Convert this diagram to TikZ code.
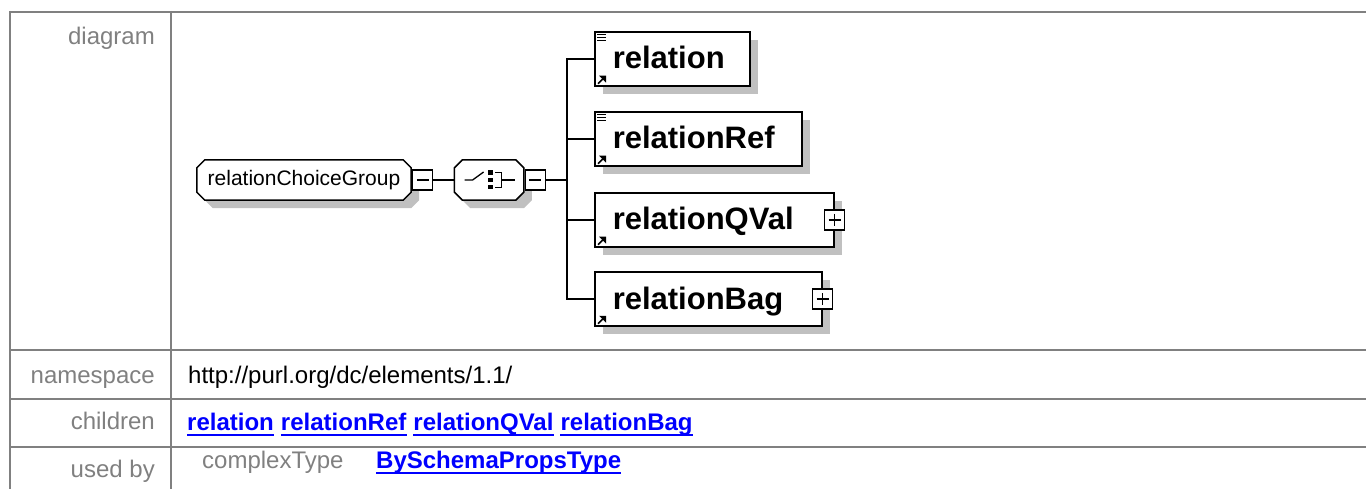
\documentclass[tikz,border=0pt]{standalone}
\usepackage{fontspec}
\setmainfont{Liberation Sans}
\usepackage{tikz}
\usepackage{xcolor}
\usetikzlibrary{positioning,shadows,calc,backgrounds}

\definecolor{labelgray}{HTML}{808080}
\definecolor{rulegray}{HTML}{808080}
\definecolor{shadowgray}{HTML}{C0C0C0}
\definecolor{linkblue}{HTML}{0000FF}

% octagon round a node: node name, offset
\newcommand\octpath[2]{($(#1.north west)+(8+#2,#2)$) -- ($(#1.north east)+(-8+#2,#2)$)
    -- ($(#1.north east)+(#2,8+#2)$) -- ($(#1.south east)+(#2,-8+#2)$)
    -- ($(#1.south east)+(-8+#2,#2)$) -- ($(#1.south west)+(8+#2,#2)$)
    -- ($(#1.south west)+(#2,-8+#2)$) -- ($(#1.north west)+(#2,8+#2)$) -- cycle}

\begin{document}
\begin{tikzpicture}[
    x=1pt, y=-1pt,
    tableline/.style={draw=rulegray, line width=2pt},
    rowlabel/.style={anchor=base east, inner sep=0pt, text=labelgray, font=\fontsize{24}{28}\selectfont},
    rowtext/.style={anchor=base west, inner sep=0pt, font=\fontsize{24}{28}\selectfont},
    linktext/.style={rowtext, text=linkblue, font=\fontsize{24}{28}\selectfont\bfseries},
    linkline/.style={draw=linkblue, line width=2pt},
    wire/.style={line width=1.5pt},
    octbox/.style={inner sep=0pt, minimum height=40pt},
    toggle/.style={draw, fill=white, line width=1.2pt, minimum size=20pt, inner sep=0pt},
    minusbox/.style={toggle, path picture={\draw[line width=1.2pt] ([xshift=4pt]path picture bounding box.west) -- ([xshift=-4pt]path picture bounding box.east);}},
    plusbox/.style={toggle, path picture={\draw[line width=1.2pt] ([xshift=4pt]path picture bounding box.west) -- ([xshift=-4pt]path picture bounding box.east) ([yshift=-4pt]path picture bounding box.north) -- ([yshift=4pt]path picture bounding box.south);}},
    elembox/.style={draw, fill=white, line width=1.5pt, anchor=west, minimum height=54pt, inner xsep=18pt, inner ysep=0pt, align=left, text width=#1, text height=23pt, text depth=3pt, font=\fontsize{31}{36}\selectfont\bfseries, drop shadow={shadow xshift=8pt, shadow yshift=-8pt, fill=shadowgray, opacity=1}}
]
    \useasboundingbox (0,0) rectangle (1366,489);

    % Table rules
    \draw[tableline] (10,12) -- (1366,12);
    \foreach \y in {350,399,447}
        \draw[tableline] (10,\y) -- (1366,\y);
    \draw[tableline] (10,11) -- (10,489) (171,11) -- (171,489);

    % Row labels
    \node[rowlabel] (diagramlbl) at (155,45) {diagram};
    \node[rowlabel] (namespacelbl) at (155,383) {namespace};
    \node[rowlabel] (childrenlbl) at (155,429) {children};
    \node[rowlabel] (usedbylbl) at (155,477) {used by};

    % Row values
    \node[rowtext] (nsvalue) at (188,383) {http://purl.org/dc/elements/1.1/};
    \node[linktext] (lnkrelation) at (187,430) {relation};
    \node[linktext, base right=6.7pt of lnkrelation] (lnkrelationRef) {relationRef};
    \node[linktext, base right=6.7pt of lnkrelationRef] (lnkrelationQVal) {relationQVal};
    \node[linktext, base right=6.7pt of lnkrelationQVal] (lnkrelationBag) {relationBag};
    \node[rowtext, text=labelgray] (usedbytype) at (202,468) {complexType};
    \node[linktext] (lnkbyschema) at (376,468) {BySchemaPropsType};
    \foreach \l in {lnkrelation, lnkrelationRef, lnkrelationQVal, lnkrelationBag, lnkbyschema}
        \draw[linkline] ([yshift=-5pt]\l.base west) -- ([yshift=-5pt]\l.base east);

    % Place nodes
    \node[octbox, minimum width=214pt, font=\fontsize{21}{25}\selectfont] (group) at (304,180) {relationChoiceGroup};
    \node[minusbox, right=1pt of group] (groupminus) {};
    \node[octbox, minimum width=69pt, right=21pt of groupminus] (choice) {};
    \node[minusbox, right=1pt of choice] (choiceminus) {};
    \coordinate[right=21pt of choiceminus] (trunk);

    \node[elembox=119pt] (relation) at (594,59) {relation};
    \node[elembox=171pt] (relationRef) at (594,139) {relationRef};
    \node[elembox=203pt] (relationQVal) at (594,220) {relationQVal};
    \node[elembox=191pt] (relationBag) at (594,299) {relationBag};
    \node[plusbox] (qvalplus) at (relationQVal.east) {};
    \node[plusbox] (bagplus) at (relationBag.east) {};

    % Octagon outlines
    \begin{scope}[on background layer]
        \foreach \n in {group, choice} {
            \fill[shadowgray] \octpath{\n}{8};
            \draw[wire, fill=white] \octpath{\n}{0};
        }
    \end{scope}

    % Choice symbol
    \begin{scope}[shift={(choice.center)}, line width=1.3pt]
        \draw (-24.5,0) -- (-16.5,0) -- (-5.5,-8);
        \foreach \y in {-9.5,-2.2,5}
            \fill (-1,\y) rectangle ++(5,4.5);
        \draw (6,-7.5) -- (12.5,-7.5) -- (12.5,7.5) -- (6,7.5) (12.5,0) -- (25.5,0);
    \end{scope}

    % Element icons
    \foreach \n in {relation, relationRef}
        \foreach \d in {3.5,6.5,9.5}
            \draw[line width=1.2pt] ([shift={(3,\d)}]\n.north west) -- ++(9,0);
    \foreach \n in {relation, relationRef, relationQVal, relationBag} {
        \draw[line width=1.6pt] ([shift={(4,-3)}]\n.south west) -- ++(6,-6);
        \fill ([shift={(12,-11)}]\n.south west) -- ++(-7,0) -- ++(7,7) -- cycle;
    }

    % Add connections
    \draw[wire] (groupminus) -- (choice);
    \draw[wire] (choiceminus) -- (trunk);
    \foreach \c in {relation, relationRef, relationQVal, relationBag}
        \draw[wire] (trunk) |- (\c);
\end{tikzpicture}
\end{document}
